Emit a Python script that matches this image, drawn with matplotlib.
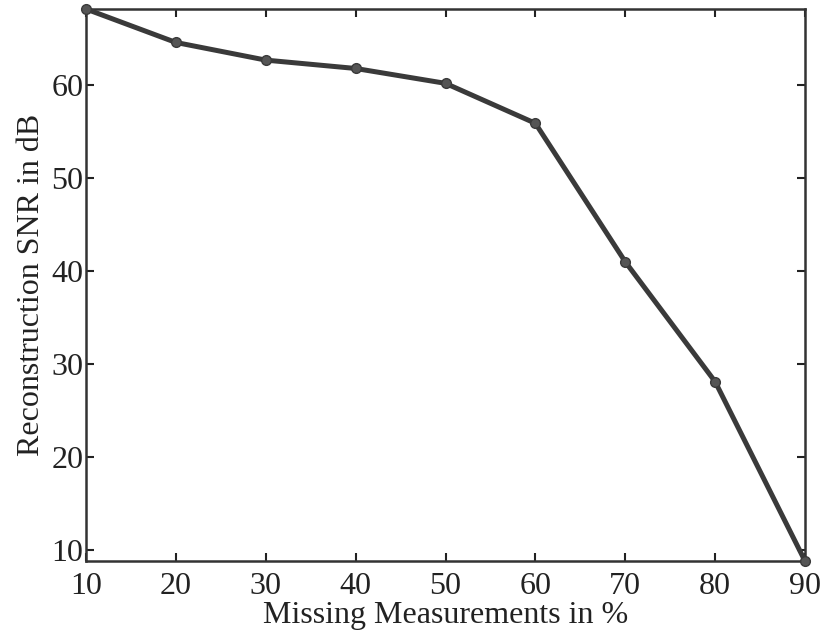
import matplotlib
matplotlib.use("Agg")
from matplotlib import pyplot as plt

missing = [10, 20, 30, 40, 50, 60, 70, 80, 90]
snr = [68.2, 64.6, 62.7, 61.8, 60.2, 55.9, 41.0, 28.1, 8.8]
xticks = [10, 20, 30, 40, 50, 60, 70, 80, 90]
yticks = [10, 20, 30, 40, 50, 60]

plt.rcParams["font.family"] = ["Liberation Serif", "DejaVu Serif"]

fig = plt.figure(figsize=(8.22, 6.34), dpi=100)
ax = fig.add_axes([86 / 822, 1 - 561 / 634, (805 - 86) / 822, (561 - 9) / 634])

ax.plot(missing, snr, color="#3a3a3a", linewidth=3.6, marker="o", markersize=7,
        markerfacecolor="#555555", markeredgecolor="#3a3a3a", clip_on=False, zorder=3)

ax.set_xlim(10, 90)
ax.set_ylim(8.8, 68.2)
ax.set_xticks(xticks)
ax.set_yticks(yticks)
ax.tick_params(direction="in", length=6, width=1.5, top=True, right=True,
               labelsize=23, colors="#222222", pad=2)
ax.tick_params(axis="x", pad=8)
for s in ax.spines.values():
    s.set_linewidth(1.8)
    s.set_color("#333333")

ax.set_xlabel("Missing Measurements in %", fontsize=23, color="#222222", labelpad=0)
ax.set_ylabel("Reconstruction SNR in dB", fontsize=23, color="#222222", labelpad=4)

fig.savefig("out.png", dpi=100)
